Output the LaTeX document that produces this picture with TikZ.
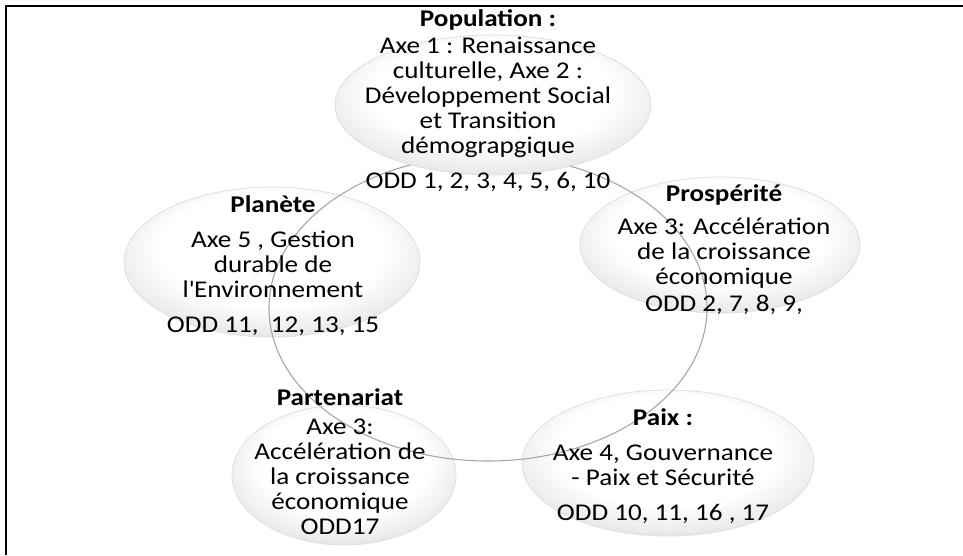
\documentclass[tikz,border=0pt]{standalone}
\usepackage{fontspec}
\setmainfont{Carlito}[FakeStretch=1.13]
\usetikzlibrary{shapes.geometric}
\pgfdeclareradialshading{bubble}{\pgfpoint{0bp}{7bp}}{color(0bp)=(white); color(19bp)=(white); color(27bp)=(gray!16); color(33bp)=(gray!40); color(35.5bp)=(gray!22); color(50bp)=(gray!22)}
\begin{document}
\begin{tikzpicture}[x=1pt, y=-1pt,
    bub/.style={ellipse, shading=bubble, draw=gray!25, line width=0.8pt, inner sep=0pt},
    txt/.style={align=center, inner sep=0pt, font=\fontsize{24}{25}\selectfont}]
    \useasboundingbox (0,0) rectangle (963,555);

    % frame
    \draw[line width=1.6pt] (6,555) -- (6,6) -- (963,6);

    \node[bub, minimum width=296pt, minimum height=150pt] (Pl) at (272,262) {};
    \node[bub, minimum width=280pt, minimum height=136pt] (Pr) at (720,245) {};
    \node[bub, minimum width=224pt, minimum height=140pt] (Pa) at (344,475) {};
    \node[bub, minimum width=292pt, minimum height=146pt] (Px) at (668,463) {};

    % ring
    \draw[gray!70, line width=1.1pt] (488,308) ellipse (219 and 153);

    \node[bub, minimum width=316pt, minimum height=140pt] (Po) at (493,105) {};

    \node[txt] (PoT) at (488,101) {\textbf{Population :}\\[2pt] Axe 1 : Renaissance\\ culturelle, Axe 2 :\\ Développement Social\\ et Transition\\ démograpgique\\[10pt] ODD 1, 2, 3, 4, 5, 6, 10};
    \node[txt] (PrT) at (724,250) {\textbf{Prospérité}\\[8pt] Axe 3: Accélération\\ de la croissance\\ économique\\[2pt] ODD 2, 7, 8, 9,};
    \node[txt] (PlT) at (273,266) {\textbf{Planète}\\[10pt] Axe 5 , Gestion\\ durable de\\ l\textquotesingle Environnement\\[10pt] ODD 11,\ \ 12, 13, 15};
    \node[txt] (PaT) at (340,462) {\textbf{Partenariat}\\[4pt] Axe 3:\\ Accélération de\\ la croissance\\ économique\\ ODD17};
    \node[txt] (PxT) at (663,466) {\textbf{Paix :}\\[10pt] Axe 4, Gouvernance\\ - Paix et Sécurité\\[10pt] ODD 10, 11, 16 , 17};
\end{tikzpicture}
\end{document}
